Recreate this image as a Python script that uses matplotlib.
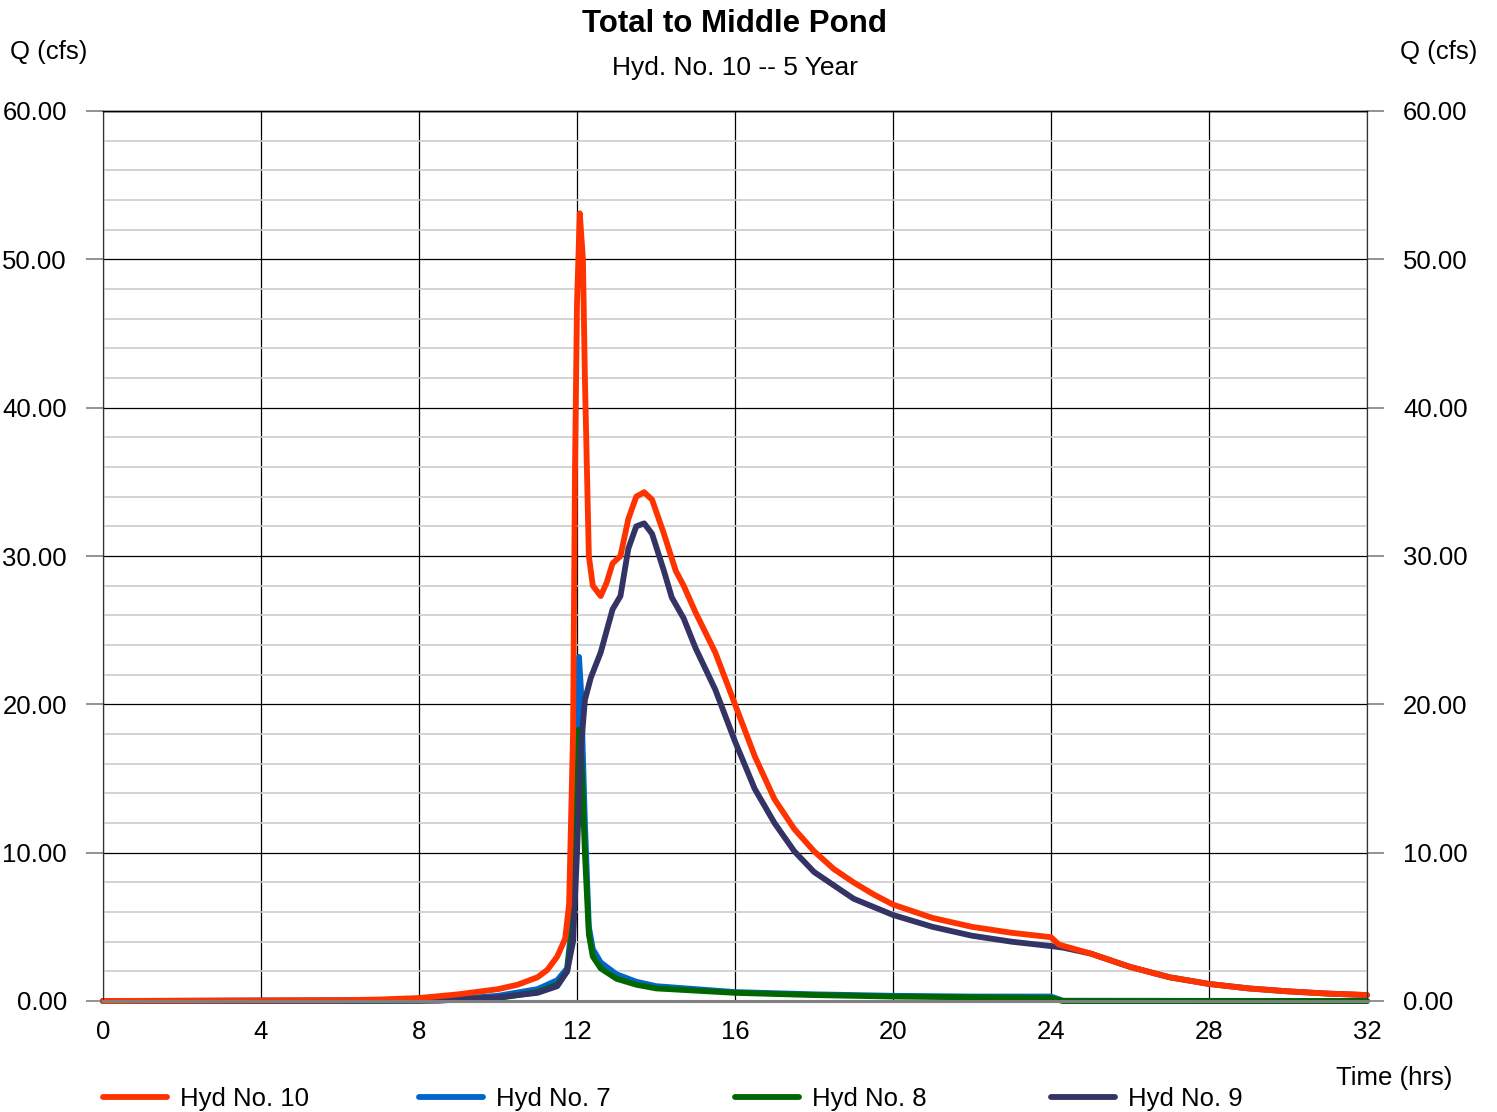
import numpy as np
import matplotlib.pyplot as plt
from matplotlib.lines import Line2D

plt.rcParams['font.family'] = ['Liberation Sans', 'DejaVu Sans']

# Hyd No. 10 (total)
t10 = [0, 6, 7, 8, 9, 10, 10.5, 11, 11.25, 11.5, 11.7, 11.8, 11.9, 11.95, 12.0, 12.07,
       12.15, 12.2, 12.3, 12.4, 12.6, 12.75, 12.9, 13.1, 13.3, 13.5, 13.7, 13.9, 14.2,
       14.5, 14.7, 15.0, 15.5, 16, 16.5, 17, 17.5, 18, 18.5, 19, 19.5, 20, 21, 22, 23,
       24, 24.2, 25, 26, 27, 28, 29, 30, 31, 32]
q10 = [0, 0.05, 0.1, 0.2, 0.45, 0.8, 1.1, 1.6, 2.1, 3.0, 4.2, 6.5, 18.0, 36.0, 47.0, 53.1,
       50.0, 42.0, 30.0, 28.0, 27.3, 28.2, 29.5, 30.0, 32.5, 34.0, 34.3, 33.8, 31.5,
       29.0, 28.0, 26.2, 23.5, 20.0, 16.5, 13.6, 11.6, 10.1, 8.9, 8.0, 7.2, 6.5, 5.6, 5.0, 4.6,
       4.3, 3.8, 3.2, 2.3, 1.6, 1.15, 0.85, 0.65, 0.5, 0.4]

# Hyd No. 7
t7 = [0, 8, 9, 10, 11, 11.5, 11.75, 11.9, 12.0, 12.05, 12.1, 12.2, 12.3, 12.4, 12.6,
      13, 13.5, 14, 15, 16, 18, 20, 22, 24, 24.3, 32]
q7 = [0, 0.05, 0.15, 0.35, 0.8, 1.4, 2.2, 6.0, 18.0, 23.2, 21.0, 12.0, 5.0, 3.5, 2.6,
      1.8, 1.3, 1.0, 0.8, 0.6, 0.45, 0.35, 0.3, 0.3, 0.02, 0]

# Hyd No. 8
t8 = [0, 8, 9, 10, 11, 11.5, 11.75, 11.9, 12.0, 12.05, 12.1, 12.2, 12.3, 12.4, 12.6,
      13, 13.5, 14, 15, 16, 18, 20, 22, 24, 24.3, 32]
q8 = [0, 0.03, 0.1, 0.2, 0.6, 1.1, 2.0, 5.0, 14.0, 18.3, 17.0, 10.0, 4.5, 3.0, 2.2,
      1.5, 1.1, 0.85, 0.7, 0.55, 0.4, 0.3, 0.25, 0.2, 0.0, 0]

# Hyd No. 9
t9 = [0, 8.5, 9, 10, 11, 11.5, 11.75, 11.9, 12.0, 12.1, 12.2, 12.35, 12.6, 12.9, 13.1,
      13.3, 13.5, 13.7, 13.9, 14.2, 14.4, 14.7, 15, 15.5, 16, 16.5, 17, 17.5, 18, 19,
      20, 21, 22, 23, 24, 24.3, 25, 26, 27, 28, 29, 30, 31, 32]
q9 = [0, 0.02, 0.1, 0.25, 0.55, 1.0, 2.0, 4.0, 10.0, 17.0, 20.3, 21.8, 23.5, 26.4, 27.3,
      30.5, 32.0, 32.2, 31.5, 29.0, 27.2, 25.8, 23.8, 21.0, 17.5, 14.3, 12.0, 10.1, 8.7, 6.9,
      5.8, 5.0, 4.4, 4.0, 3.7, 3.6, 3.2, 2.3, 1.6, 1.15, 0.85, 0.65, 0.5, 0.4]

x_ticks = np.arange(0, 33, 4)
y_ticks = np.arange(0, 61, 10)

fig = plt.figure(figsize=(14.97, 11.12), dpi=100)
ax = fig.add_axes([103 / 1497, 1 - 1001 / 1112, 1264 / 1497, 890 / 1112])

ax.set_xlim(0, 32)
ax.set_ylim(0, 60)

# grid
ax.set_yticks(np.arange(0, 61, 2), minor=True)
ax.grid(which='minor', axis='y', color='#cccccc', linewidth=1.2)
ax.grid(which='major', axis='both', color='black', linewidth=0.9)
ax.set_axisbelow(True)

lw = 4.2
series = [
    (t7, q7, '#0066cc', 'Hyd No. 7'),
    (t8, q8, '#006600', 'Hyd No. 8'),
    (t9, q9, '#333366', 'Hyd No. 9'),
    (t10, q10, '#ff3300', 'Hyd No. 10'),
]
for t, q, c, lab in series:
    ax.plot(t, q, color=c, linewidth=lw, solid_capstyle='round',
            solid_joinstyle='round', clip_on=False, zorder=3)

ax.set_xticks(x_ticks)
ax.set_xticklabels([str(v) for v in x_ticks])
ax.set_yticks(y_ticks)
ax.set_yticklabels([f'{v:.2f}' for v in y_ticks])
ax.tick_params(axis='x', length=0, pad=14, labelsize=18.5)
ax.tick_params(axis='y', which='major', length=12, width=1.2, color='#808080',
               labelsize=18.5, pad=14)
ax.tick_params(axis='y', which='minor', length=0)

ax2 = ax.twinx()
ax2.set_ylim(0, 60)
ax2.set_yticks(y_ticks)
ax2.set_yticklabels([f'{v:.2f}' for v in y_ticks])
ax2.tick_params(axis='y', length=12, width=1.2, color='#808080', labelsize=18.5, pad=14)

for a in (ax, ax2):
    a.spines['top'].set_color('black')
    a.spines['top'].set_linewidth(1.0)
    a.spines['left'].set_color('#333333')
    a.spines['right'].set_color('#333333')
    a.spines['bottom'].set_color('#808080')
    a.spines['bottom'].set_linewidth(2.2)

fig.text(735 / 1497, 1 - 24 / 1112, 'Total to Middle Pond', ha='center', va='center',
         fontsize=22.5, fontweight='bold')
fig.text(735 / 1497, 1 - 68 / 1112, 'Hyd. No. 10 -- 5 Year', ha='center', va='center',
         fontsize=19)
fig.text(10 / 1497, 1 - 52 / 1112, 'Q (cfs)', ha='left', va='center', fontsize=18.5)
fig.text(1477 / 1497, 1 - 52 / 1112, 'Q (cfs)', ha='right', va='center', fontsize=18.5)
fig.text(1452 / 1497, 1 - 1078 / 1112, 'Time (hrs)', ha='right', va='center', fontsize=18.5)

# legend entries, one per column aligned to 0, 8, 16, 24 h
legend_order = [series[3], series[0], series[1], series[2]]
for i, (t, q, c, lab) in enumerate(legend_order):
    h = Line2D([], [], color=c, linewidth=lw, solid_capstyle='round')
    x0 = (103 + i * 316) / 1497
    fig.legend(handles=[h], labels=[lab], loc='center left',
               bbox_to_anchor=(x0, 1 - 1099 / 1112), frameon=False,
               fontsize=18.5, handlelength=2.5, handletextpad=0.5,
               borderaxespad=0, borderpad=0)

fig.savefig('out.png', dpi=100)
